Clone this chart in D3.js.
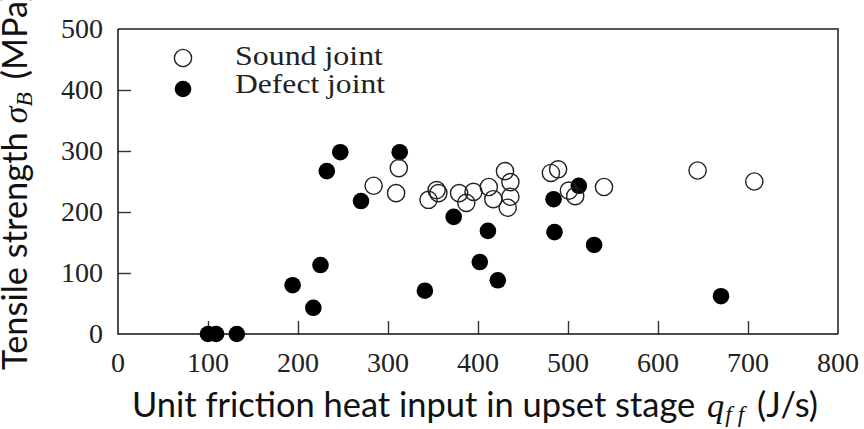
<!DOCTYPE html>
<html>
<head>
<meta charset="utf-8">
<script src="https://cdn.jsdelivr.net/npm/d3@7"></script>
<style>
  html, body { margin: 0; padding: 0; background: #fff; }
  svg { display: block; }
  text { white-space: pre; }
</style>
</head>
<body>
<svg id="chart" width="864" height="429"></svg>
<script>
// ---- data ----
const soundX = [284, 309, 312, 345, 354, 356, 379, 387, 395, 412, 417, 430, 436, 436, 433, 481, 489, 501, 508, 540, 644, 707];
const soundY = [243, 231, 272, 220, 236, 231, 231, 215, 233, 241, 221, 267, 249, 225, 207, 264, 270, 235, 226, 241, 268, 250];
const defectX = [100, 109, 132, 194, 217, 225, 232, 247, 270, 313, 341, 373, 402, 411, 422, 484, 485, 512, 529, 670];
const defectY = [0, 0, 0, 80, 43, 113, 267, 298, 218, 298, 71, 192, 118, 169, 88, 221, 167, 243, 146, 62];
const xTicks = [0, 100, 200, 300, 400, 500, 600, 700, 800];
const yTicks = [0, 100, 200, 300, 400, 500];
const legendLabels = ["Sound joint", "Defect joint"];

// ---- layout ----
const svg = d3.select("#chart");
const L = 118, R = 838, T = 29, B = 334;
const x = d3.scaleLinear().domain([0, 800]).range([L, R]);
const y = d3.scaleLinear().domain([0, 500]).range([B, T]);
const serif = "'Liberation Serif', 'Times New Roman', serif";
const sans = "Lato, 'Open Sans', 'DejaVu Sans', sans-serif";

// inner ticks via d3 axes
const xAxis = svg.append("g").attr("transform", `translate(0,${B})`)
  .call(d3.axisTop(x).tickValues(xTicks.filter(d => d > 0 && d < 800)).tickSize(13).tickFormat(""));
const yAxis = svg.append("g").attr("transform", `translate(${L},0)`)
  .call(d3.axisRight(y).tickValues(yTicks.filter(d => d > 0 && d < 500)).tickSize(13).tickFormat(""));
[xAxis, yAxis].forEach(g => {
  g.select(".domain").remove();
  g.selectAll(".tick line").attr("stroke", "#333").attr("stroke-width", 1.4);
});

// tick labels
svg.append("g").selectAll("text").data(xTicks).join("text")
  .attr("x", d => x(d)).attr("y", 372)
  .attr("text-anchor", "middle")
  .style("font-family", serif).style("font-size", "28px").attr("fill", "#222")
  .text(d => d);
svg.append("g").selectAll("text").data(yTicks).join("text")
  .attr("x", 103).attr("y", d => y(d) + 9)
  .attr("text-anchor", "end")
  .style("font-family", serif).style("font-size", "28px").attr("fill", "#222")
  .text(d => d);

// frame
svg.append("path").attr("d", `M${L},${T}H${R}V${B}`).attr("fill", "none")
  .attr("stroke", "#555").attr("stroke-width", 2);
svg.append("path").attr("d", `M${L},${T}V${B}H${R}`).attr("fill", "none")
  .attr("stroke", "#111").attr("stroke-width", 1.5);

// points
const defect = defectX.map((d, i) => ({ x: d, y: defectY[i] }));
const sound = soundX.map((d, i) => ({ x: d, y: soundY[i] }));
svg.append("g").selectAll("circle").data(defect).join("circle")
  .attr("cx", d => x(d.x)).attr("cy", d => y(d.y)).attr("r", 8.3)
  .attr("fill", "#000");
svg.append("g").selectAll("circle").data(sound).join("circle")
  .attr("cx", d => x(d.x)).attr("cy", d => y(d.y)).attr("r", 8.6)
  .attr("fill", "none").attr("stroke", "#222").attr("stroke-width", 1.4);

// legend
svg.append("circle").attr("cx", 183).attr("cy", 58).attr("r", 8.6)
  .attr("fill", "none").attr("stroke", "#222").attr("stroke-width", 1.4);
svg.append("circle").attr("cx", 183).attr("cy", 89).attr("r", 8.3).attr("fill", "#000");
const legW = [148, 150];
legendLabels.forEach((t, i) => {
  svg.append("text").attr("x", 235).attr("y", [65, 93][i])
    .style("font-family", serif).style("font-size", "28px").attr("fill", "#222")
    .attr("textLength", legW[i]).attr("lengthAdjust", "spacingAndGlyphs")
    .text(t);
});

// axis titles
const xt = svg.append("text").attr("x", 132).attr("y", 417)
  .style("font-family", sans).style("font-size", "28px").attr("fill", "#111");
xt.append("tspan").text("Unit friction heat input in upset stage ");
xt.append("tspan").attr("dx", 3).style("font-family", serif).style("font-style", "italic").text("q");
xt.append("tspan").style("font-family", serif).style("font-style", "italic").style("font-size", "19px")
  .attr("dy", 5).attr("dx", 1).text("f f");
xt.append("tspan").attr("dy", -5).attr("dx", 4).text(" (J/s)");
// fit width to reference
const targetW = 688;
const w0 = xt.node().getBBox().width;
const fs = 28 * targetW / w0;
xt.style("font-size", fs + "px");
xt.selectAll("tspan").filter((d, i) => i === 2).style("font-size", (fs * 0.68) + "px");

const yt = svg.append("text").attr("transform", "translate(27,370) rotate(-90)")
  .style("font-family", sans).style("font-size", fs + "px").attr("fill", "#111");
yt.append("tspan").text("Tensile strength ");
yt.append("tspan").style("font-family", serif).style("font-style", "italic").text("σ");
yt.append("tspan").style("font-family", serif).style("font-style", "italic").style("font-size", (fs * 0.68) + "px")
  .attr("dy", 5).text("B");
yt.append("tspan").attr("dy", -5).attr("dx", 4).text(" (MPa)");
</script>
</body>
</html>
